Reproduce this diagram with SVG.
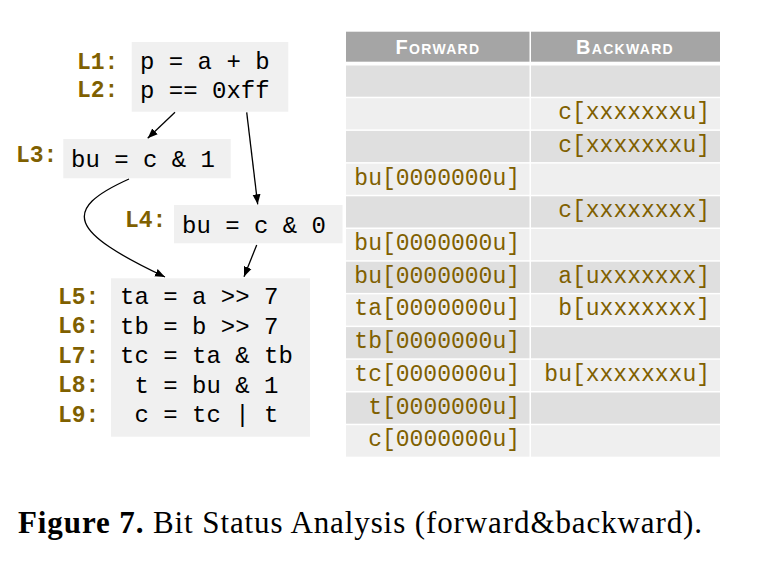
<svg xmlns="http://www.w3.org/2000/svg" width="766" height="567" viewBox="0 0 766 567">
<style>
.box{fill:#f0f0f0}
.code{font-family:"Liberation Mono",monospace;font-size:24px;fill:#000;white-space:pre}
.lbl{font-family:"Liberation Mono",monospace;font-size:23px;font-weight:bold;fill:#7f6000}
.hd{fill:#a5a5a5}
.ht{font-family:"Liberation Sans",Arial,sans-serif;font-size:20px;font-weight:bold;font-variant:small-caps;fill:#fff;text-anchor:middle;letter-spacing:1.3px}
.d{fill:#dfdfdf}
.l{fill:#efefef}
.tt{font-family:"Liberation Mono",monospace;font-size:23px;fill:#7f6000;text-anchor:end}
.edge{fill:none;stroke:#000;stroke-width:1.3}
.cap{font-family:"Liberation Serif","Times New Roman",serif;font-size:31px;fill:#000;letter-spacing:0.9px}
</style>
<defs>
<marker id="ah" viewBox="0 0 10 10" refX="10" refY="5" markerWidth="10" markerHeight="10" markerUnits="userSpaceOnUse" orient="auto">
<path d="M0,1 L10,5 L0,9 Z" fill="#000"/>
</marker>
</defs>
<rect width="766" height="567" fill="#fff"/>

<g id="n12">
<rect class="box" x="131.7" y="42" width="156.6" height="69.7"/>
<text class="lbl" x="77" y="68.8">L1:</text>
<text class="lbl" x="77" y="97.2">L2:</text>
<text class="code" x="140" y="69.3">p = a + b</text>
<text class="code" x="140" y="98.3">p == 0xff</text>
</g>
<g id="n3">
<rect class="box" x="63.3" y="139" width="167.4" height="39.3"/>
<text class="lbl" x="16" y="162.2">L3:</text>
<text class="code" x="71" y="167.3">bu = c &amp; 1</text>
</g>
<g id="n4">
<rect class="box" x="174" y="205" width="168.5" height="38.3"/>
<text class="lbl" x="125" y="226.5">L4:</text>
<text class="code" x="182" y="232.7">bu = c &amp; 0</text>
</g>
<g id="n59">
<rect class="box" x="111" y="278.3" width="199" height="158.4"/>
<text class="lbl" x="58" y="303.8">L5:</text>
<text class="lbl" x="58" y="333.2">L6:</text>
<text class="lbl" x="58" y="362.5">L7:</text>
<text class="lbl" x="58" y="392">L8:</text>
<text class="lbl" x="58" y="421.5">L9:</text>
<text class="code" x="120" y="304.3">ta = a &gt;&gt; 7</text>
<text class="code" x="120" y="334">tb = b &gt;&gt; 7</text>
<text class="code" x="120" y="363.3">tc = ta &amp; tb</text>
<text class="code" x="120" y="392.7" xml:space="preserve"> t = bu &amp; 1</text>
<text class="code" x="120" y="422.3" xml:space="preserve"> c = tc | t</text>
</g>

<g id="connectors">
<line class="edge" x1="175" y1="112.3" x2="147.7" y2="138.3" marker-end="url(#ah)"/>
<line class="edge" x1="246.7" y1="112.3" x2="257.7" y2="204.3" marker-end="url(#ah)"/>
<path class="edge" d="M129,179 C60,210 70,232 165,277" marker-end="url(#ah)"/>
<line class="edge" x1="256.7" y1="245" x2="244" y2="276.7" marker-end="url(#ah)"/>
</g>

<g id="table">
<rect class="hd" x="346" y="31.7" width="183.5" height="30"/>
<rect class="hd" x="531" y="31.7" width="189" height="30"/>
<text class="ht" x="438" y="54">Forward</text>
<text class="ht" x="625" y="54">Backward</text>

<rect class="d" x="346" y="65.5" width="183.5" height="31.2"/><rect class="d" x="531" y="65.5" width="189" height="31.2"/>
<rect class="l" x="346" y="98.2" width="183.5" height="31.2"/><rect class="l" x="531" y="98.2" width="189" height="31.2"/>
<rect class="d" x="346" y="130.9" width="183.5" height="31.2"/><rect class="d" x="531" y="130.9" width="189" height="31.2"/>
<rect class="l" x="346" y="163.6" width="183.5" height="31.2"/><rect class="l" x="531" y="163.6" width="189" height="31.2"/>
<rect class="d" x="346" y="196.3" width="183.5" height="31.2"/><rect class="d" x="531" y="196.3" width="189" height="31.2"/>
<rect class="l" x="346" y="229" width="183.5" height="31.2"/><rect class="l" x="531" y="229" width="189" height="31.2"/>
<rect class="d" x="346" y="261.7" width="183.5" height="31.2"/><rect class="d" x="531" y="261.7" width="189" height="31.2"/>
<rect class="l" x="346" y="294.4" width="183.5" height="31.2"/><rect class="l" x="531" y="294.4" width="189" height="31.2"/>
<rect class="d" x="346" y="327.1" width="183.5" height="31.2"/><rect class="d" x="531" y="327.1" width="189" height="31.2"/>
<rect class="l" x="346" y="359.8" width="183.5" height="31.2"/><rect class="l" x="531" y="359.8" width="189" height="31.2"/>
<rect class="d" x="346" y="392.5" width="183.5" height="31.2"/><rect class="d" x="531" y="392.5" width="189" height="31.2"/>
<rect class="l" x="346" y="425.2" width="183.5" height="31.5"/><rect class="l" x="531" y="425.2" width="189" height="31.5"/>

<text class="tt" x="710" y="119.2">c[xxxxxxxu]</text>
<text class="tt" x="710" y="151.9">c[xxxxxxxu]</text>
<text class="tt" x="520" y="184.6">bu[0000000u]</text>
<text class="tt" x="710" y="217.3">c[xxxxxxxx]</text>
<text class="tt" x="520" y="250">bu[0000000u]</text>
<text class="tt" x="520" y="282.7">bu[0000000u]</text>
<text class="tt" x="710" y="282.7">a[uxxxxxxx]</text>
<text class="tt" x="520" y="315.4">ta[0000000u]</text>
<text class="tt" x="710" y="315.4">b[uxxxxxxx]</text>
<text class="tt" x="520" y="348.1">tb[0000000u]</text>
<text class="tt" x="520" y="380.8">tc[0000000u]</text>
<text class="tt" x="710" y="380.8">bu[xxxxxxxu]</text>
<text class="tt" x="520" y="413.5">t[0000000u]</text>
<text class="tt" x="520" y="446.2">c[0000000u]</text>
</g>

<text class="cap" x="18" y="533"><tspan font-weight="bold">Figure 7.</tspan> Bit Status Analysis (forward&amp;backward).</text>
</svg>
